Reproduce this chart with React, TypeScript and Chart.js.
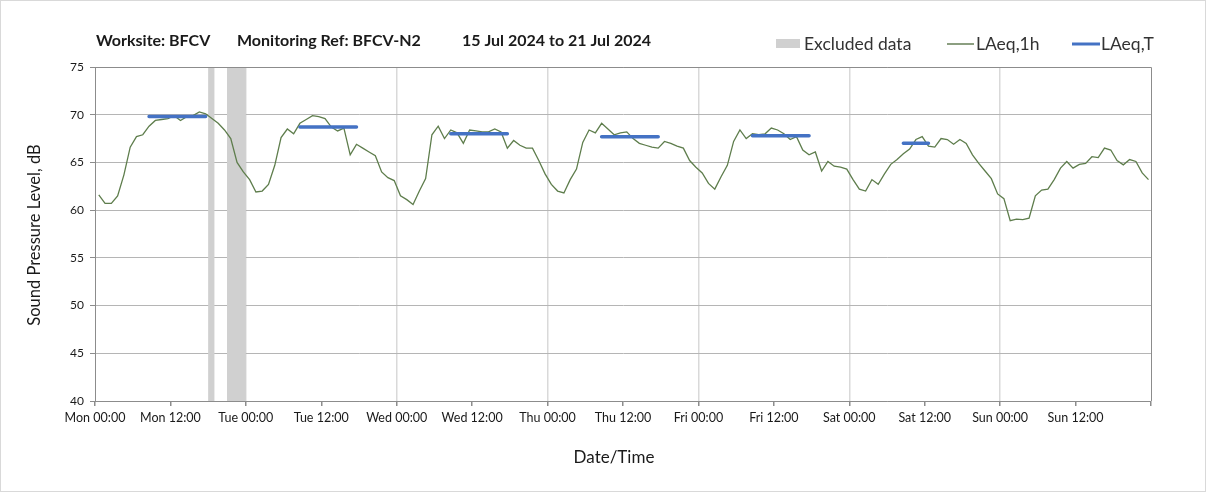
import React, { useEffect, useRef } from 'react';
import { Chart, registerables } from 'chart.js';

Chart.register(...registerables);

// ---------- data ----------
const X_TICK_LABELS = [
  'Mon 00:00', 'Mon 12:00', 'Tue 00:00', 'Tue 12:00', 'Wed 00:00', 'Wed 12:00',
  'Thu 00:00', 'Thu 12:00', 'Fri 00:00', 'Fri 12:00', 'Sat 00:00', 'Sat 12:00',
  'Sun 00:00', 'Sun 12:00',
];

// hourly LAeq,1h values, Mon 00:00 .. Sun 23:00
const LAEQ_1H = [
  61.6, 60.7, 60.7, 61.5, 63.7, 66.6, 67.7, 67.9, 68.8, 69.4, 69.5, 69.6,
  69.9, 69.4, 69.8, 69.9, 70.3, 70.1, 69.6, 69.1, 68.4, 67.5, 65.0, 64.0,
  63.2, 61.9, 62.0, 62.7, 64.7, 67.6, 68.5, 68.0, 69.1, 69.5, 69.9, 69.8,
  69.6, 68.7, 68.3, 68.6, 65.8, 66.9, 66.5, 66.1, 65.7, 64.0, 63.4, 63.1,
  61.5, 61.1, 60.6, 62.0, 63.3, 67.9, 68.8, 67.5, 68.4, 68.1, 67.0, 68.4,
  68.3, 68.2, 68.2, 68.5, 68.2, 66.5, 67.3, 66.8, 66.5, 66.5, 65.2, 63.8,
  62.7, 62.0, 61.8, 63.2, 64.3, 67.1, 68.4, 68.1, 69.1, 68.5, 67.9, 68.1,
  68.2, 67.5, 67.0, 66.8, 66.6, 66.5, 67.2, 67.0, 66.7, 66.5, 65.2, 64.5,
  63.9, 62.8, 62.2, 63.5, 64.7, 67.2, 68.4, 67.5, 68.0, 67.9, 68.0, 68.6,
  68.4, 68.0, 67.4, 67.7, 66.3, 65.8, 66.1, 64.1, 65.1, 64.6, 64.5, 64.3,
  63.2, 62.2, 62.0, 63.2, 62.7, 63.8, 64.8, 65.3, 65.9, 66.4, 67.4, 67.7,
  66.7, 66.6, 67.5, 67.4, 66.9, 67.4, 67.0, 65.8, 64.9, 64.1, 63.3, 61.7,
  61.2, 58.9, 59.05, 59.0, 59.15, 61.5, 62.1, 62.2, 63.2, 64.4, 65.1, 64.4,
  64.8, 64.9, 65.6, 65.5, 66.5, 66.3, 65.2, 64.75, 65.3, 65.1, 63.9, 63.2,
];

// LAeq,T periods (hour index start/end) and values
const LAEQ_T_START = [8, 32, 56, 80, 104, 128];
const LAEQ_T_END = [17, 41, 65, 89, 113, 132];
const LAEQ_T_VALUES = [69.8, 68.7, 68.0, 67.7, 67.8, 67.0];

// excluded periods (hours from Mon 00:00)
const EXCLUDED_START = [18, 21];
const EXCLUDED_END = [19, 24];

const TITLE_PARTS = ['Worksite: BFCV', 'Monitoring Ref: BFCV-N2', '15 Jul 2024 to 21 Jul 2024'];
const LEGEND_LABELS = ['Excluded data', 'LAeq,1h', 'LAeq,T'];
const Y_TITLE = 'Sound Pressure Level, dB';
const X_TITLE = 'Date/Time';

// ---------- style ----------
const FONT = 'Lato, "Open Sans", sans-serif';
const GREEN = '#5e7d4c';
const BLUE = '#4472C4';
const BAND = '#d0d0d0';
const TEXT = '#1a1a1a';
const POINT_OFFSET = 0.6; // hourly value drawn mid-hour

const W = 1208;
const H = 494;

const decorPlugin = {
  id: 'decor',
  beforeDatasetsDraw(chart: any) {
    const { ctx, chartArea, scales } = chart;
    const x = scales.x;
    ctx.save();
    ctx.fillStyle = BAND;
    for (let i = 0; i < EXCLUDED_START.length; i++) {
      const x0 = x.getPixelForValue(EXCLUDED_START[i]);
      const x1 = x.getPixelForValue(EXCLUDED_END[i]);
      ctx.fillRect(x0, chartArea.top, x1 - x0, chartArea.bottom - chartArea.top);
    }
    ctx.restore();
  },
  afterDraw(chart: any) {
    const { ctx, chartArea } = chart;
    ctx.save();
    // plot frame top/right
    ctx.strokeStyle = '#8c8c8c';
    ctx.lineWidth = 1;
    ctx.beginPath();
    ctx.moveTo(chartArea.left, Math.round(chartArea.top) + 0.5);
    ctx.lineTo(Math.round(chartArea.right) + 0.5, Math.round(chartArea.top) + 0.5);
    ctx.lineTo(Math.round(chartArea.right) + 0.5, chartArea.bottom);
    ctx.stroke();

    // outer border
    ctx.strokeStyle = '#d9d9d9';
    ctx.strokeRect(0.5, 0.5, W - 3, H - 3);

    // title
    ctx.fillStyle = TEXT;
    ctx.textBaseline = 'middle';
    ctx.textAlign = 'left';
    ctx.font = `bold 16px ${FONT}`;
    const tx = [96, 237, 462];
    TITLE_PARTS.forEach((t, i) => ctx.fillText(t, tx[i], 41));

    // legend
    ctx.font = `17.5px ${FONT}`;
    ctx.fillStyle = BAND;
    ctx.fillRect(776, 39, 24, 9);
    ctx.fillStyle = '#333';
    ctx.fillText(LEGEND_LABELS[0], 804, 44);
    ctx.strokeStyle = '#3f5f2c';
    ctx.lineWidth = 1.2;
    ctx.beginPath();
    ctx.moveTo(947, 44);
    ctx.lineTo(974, 44);
    ctx.stroke();
    ctx.fillText(LEGEND_LABELS[1], 976, 44);
    ctx.strokeStyle = BLUE;
    ctx.lineWidth = 3;
    ctx.beginPath();
    ctx.moveTo(1072, 44);
    ctx.lineTo(1100, 44);
    ctx.stroke();
    ctx.fillText(LEGEND_LABELS[2], 1101, 44);

    // axis titles
    ctx.fillStyle = TEXT;
    ctx.textAlign = 'center';
    ctx.font = `17px ${FONT}`;
    ctx.fillText(X_TITLE, 614, 458);
    ctx.font = `16.5px ${FONT}`;
    ctx.translate(35, 235);
    ctx.rotate(-Math.PI / 2);
    ctx.fillText(Y_TITLE, 0, 0);
    ctx.restore();
  },
};

export default function App() {
  const ref = useRef<HTMLCanvasElement | null>(null);

  useEffect(() => {
    if (!ref.current) return;
    const lineData = LAEQ_1H.map((v, i) => ({ x: i + POINT_OFFSET, y: v }));
    const tData: any[] = [];
    LAEQ_T_VALUES.forEach((v, i) => {
      tData.push({ x: LAEQ_T_START[i] + POINT_OFFSET, y: v });
      tData.push({ x: LAEQ_T_END[i] + POINT_OFFSET, y: v });
      tData.push({ x: LAEQ_T_END[i] + POINT_OFFSET + 0.5, y: null });
    });

    const chart = new Chart(ref.current, {
      type: 'line',
      data: {
        datasets: [
          {
            label: LEGEND_LABELS[2],
            data: tData,
            borderColor: BLUE,
            borderWidth: 3.5,
            borderCapStyle: 'round',
            pointRadius: 0,
            spanGaps: false,
            order: 0,
          },
          {
            label: LEGEND_LABELS[1],
            data: lineData,
            borderColor: GREEN,
            borderWidth: 1.3,
            pointRadius: 0,
            tension: 0,
            order: 1,
          },
        ],
      },
      options: {
        responsive: false,
        animation: false,
        devicePixelRatio: 1,
        layout: { padding: { top: 67, right: W - 1151, left: 0, bottom: 0 } },
        plugins: {
          legend: { display: false },
          title: { display: false },
          tooltip: { enabled: false },
        },
        scales: {
          x: {
            type: 'linear',
            min: 0,
            max: 168,
            afterFit: (s: any) => { s.height = H - 401; },
            afterBuildTicks: (s: any) => {
              s.ticks = X_TICK_LABELS.map((_, i) => ({ value: i * 12 })).concat([{ value: 168 }]);
            },
            ticks: {
              autoSkip: false,
              maxRotation: 0,
              padding: 4,
              color: TEXT,
              font: { family: FONT, size: 12.5 },
              callback: (v: any) => X_TICK_LABELS[Math.round(Number(v) / 12)] ?? '',
            },
            grid: {
              color: (c: any) => {
                const v = c.tick ? c.tick.value : 0;
                return v % 24 === 0 && v > 0 && v < 168 ? '#d9d9d9' : 'rgba(0,0,0,0)';
              },
              lineWidth: 1.5,
              tickColor: '#8c8c8c',
              tickLength: 5,
              drawTicks: true,
            },
            border: { color: '#8c8c8c', width: 1 },
          },
          y: {
            min: 40,
            max: 75,
            afterFit: (s: any) => { s.width = 95; },
            ticks: {
              stepSize: 5,
              padding: 6,
              color: TEXT,
              font: { family: FONT, size: 12 },
            },
            grid: {
              color: '#b5b5b5',
              lineWidth: 1,
              tickColor: '#8c8c8c',
              tickLength: 5,
            },
            border: { color: '#8c8c8c', width: 1 },
          },
        },
      },
      plugins: [decorPlugin],
    } as any);
    return () => chart.destroy();
  }, []);

  return (
    <div style={{ position: 'fixed', left: 0, top: 0, width: W, height: H, background: '#fff' }}>
      <canvas ref={ref} width={W} height={H} style={{ width: W, height: H, display: 'block' }} />
    </div>
  );
}
